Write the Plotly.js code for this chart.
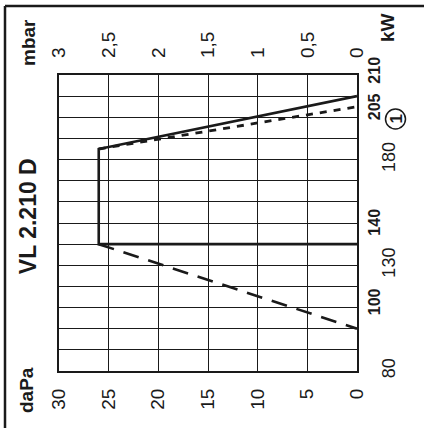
<!DOCTYPE html>
<html>
<head>
<meta charset="utf-8">
<script src="https://cdn.plot.ly/plotly-3.0.1.min.js"></script>
<style>
html,body{margin:0;padding:0;background:#fff;overflow:hidden;}
#chart{width:424px;height:428px;}
</style>
</head>
<body>
<div id="chart"></div>
<script>
// pressure in daPa (horizontal), output in kW (vertical)
const daPaTicks = [30, 25, 20, 15, 10, 5, 0];
const mbarTicks = [3, 2.5, 2, 1.5, 1, 0.5, 0];
const mbarText = ['3', '2,5', '2', '1,5', '1', '0,5', '0'];
const kWTicks = [80, 130, 180];
const kWBold = [210, 205, 140, 100];

// working field curves
const solidP = [0, 26, 26, 0];
const solidK = [140, 140, 185, 210];
const dashP = [26, 0];
const dashK = [140, 100];
const dotP = [26, 0];
const dotK = [185, 205];

const title = 'VL 2.210 D';
const FONT = 'Liberation Sans, Arial, Helvetica, sans-serif';
const ink = '#1a1a1a';

const traces = [
  {x: solidP, y: solidK, mode: 'lines', line: {color: ink, width: 2.6}, hoverinfo: 'skip'},
  {x: dashP, y: dashK, mode: 'lines', line: {color: ink, width: 2.6, dash: '16px,10px'}, hoverinfo: 'skip'},
  {x: dotP, y: dotK, mode: 'lines', line: {color: ink, width: 2.8, dash: '7px,7px'}, hoverinfo: 'skip'}
];

const L = 59, R = 357, T = 75, B = 371;
const W = 424, H = 428;
const px = v => (v - L) / (R - L);
const py = v => (B - v) / (B - T);

function note(text, x, y, size) {
  return {text: text, xref: 'paper', yref: 'paper', x: px(x), y: py(y), xanchor: 'center', yanchor: 'middle',
    textangle: -90, showarrow: false, font: {family: FONT, size: size, color: ink}};
}
const annotations = [
  note('<b>' + title + '</b>', 27.5, 216.7, 23),
  note('<b>mbar</b>', 28, 43, 19),
  note('<b>daPa</b>', 26, 390, 19),
  note('<b>kW</b>', 387, 28, 19),
  note('<b>1</b>', 395.5, 119, 17)
];
const boldShift = [26, 0, 22, 27];
kWBold.forEach((v, i) => {
  annotations.push({text: '<b>' + v + '</b>', xref: 'paper', yref: 'y', x: px(374.5), y: v, yshift: boldShift[i],
    xanchor: 'center', yanchor: 'middle', textangle: -90, showarrow: false,
    font: {family: FONT, size: 16, color: ink}});
});

const shapes = [
  {type: 'line', xref: 'paper', yref: 'paper', x0: px(5), x1: px(W), y0: py(6), y1: py(6), line: {color: ink, width: 2.5}},
  {type: 'line', xref: 'paper', yref: 'paper', x0: px(5), x1: px(5), y0: py(6), y1: py(H), line: {color: ink, width: 2.5}},
  {type: 'circle', xref: 'paper', yref: 'paper', x0: px(385.5), x1: px(405.5), y0: py(129), y1: py(109), line: {color: ink, width: 1.5}}
];

const layout = {
  width: W, height: H,
  margin: {l: L, r: W - R, t: T, b: H - B, pad: 0},
  paper_bgcolor: '#fff', plot_bgcolor: '#fff',
  showlegend: false,
  font: {family: FONT, color: ink},
  xaxis: {
    range: [30, 0], tickvals: daPaTicks, ticktext: daPaTicks.map(String), tickangle: -90,
    showgrid: true, gridcolor: ink, gridwidth: 1, zeroline: false,
    showline: true, linecolor: ink, linewidth: 2, mirror: true,
    ticks: '', ticklabelstandoff: 8, tickfont: {family: FONT, size: 19, color: ink}
  },
  xaxis2: {
    range: [3, 0], overlaying: 'x', side: 'top', anchor: 'y',
    tickvals: mbarTicks, ticktext: mbarText, tickangle: -90,
    showgrid: false, zeroline: false, showline: false,
    ticks: '', ticklabelstandoff: 16, tickfont: {family: FONT, size: 19, color: ink}
  },
  yaxis: {
    range: [80, 220], side: 'right', tickvals: kWTicks, ticktext: kWTicks.map(String), tickangle: -90,
    showgrid: true, gridcolor: ink, gridwidth: 1, zeroline: false,
    showline: true, linecolor: ink, linewidth: 2, mirror: true,
    minor: {dtick: 10, showgrid: true, gridcolor: ink, gridwidth: 1},
    ticks: '', ticklabelstandoff: 14, tickfont: {family: FONT, size: 18, color: ink}
  },
  annotations: annotations,
  shapes: shapes
};

traces.push({x: mbarTicks, y: mbarTicks.map(() => null), xaxis: 'x2', yaxis: 'y', mode: 'lines', hoverinfo: 'skip', showlegend: false});

Plotly.newPlot('chart', traces, layout, {staticPlot: true, displayModeBar: false});
</script>
</body>
</html>
